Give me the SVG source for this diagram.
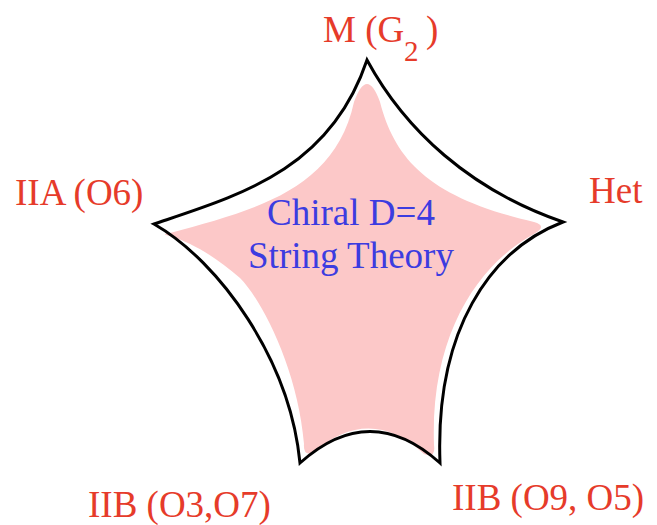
<svg xmlns="http://www.w3.org/2000/svg" width="657" height="525" viewBox="0 0 657 525">
<style>
.lbl{font-family:"Liberation Serif","Times New Roman",serif;fill:#e63b2a;font-size:37px}
.ctr{font-family:"Liberation Serif","Times New Roman",serif;fill:#3c3ce0;font-size:37px;text-anchor:middle}
</style>
<rect width="657" height="525" fill="#ffffff"/>
<g id="star">
<path id="star-fill" fill="#fcc8c8" d="M170,233 C255,210 335,190 354,102 Q367,66 380,102 C395,160 430,198 534,222 Q548,226 534,234 C482,262 430,330 434,445 Q436,459 424,454 Q370,404 314,452 Q303,457 304,444 C298,370 262,300 240,278 C215,256 190,242 170,236 Q160,234 170,233 Z"/>
<path id="star-outline" fill="none" stroke="#000" stroke-width="3" stroke-linejoin="miter" stroke-miterlimit="10" d="M154,224 C240,195 330,170 367,60 C405,130 470,190 563,222 C490,250 435,330 440,463 Q370,400 300,463 C290,360 220,262 154,224 Z"/>
</g>
<g id="labels">
<text id="m-g2" class="lbl" x="323" y="42" font-size="34">M (G<tspan x="404" dy="19" font-size="29">2</tspan><tspan x="426" dy="-19">)</tspan></text>
<text id="iia" class="lbl" x="15" y="205">IIA (O6)</text>
<text id="het" class="lbl" x="589" y="203">Het</text>
<text id="iib-o3o7" class="lbl" x="88" y="517">IIB (O3,O7)</text>
<text id="iib-o9o5" class="lbl" x="452" y="510">IIB (O9, O5)</text>
</g>
<g id="center-text">
<text class="ctr" x="351" y="225">Chiral D=4</text>
<text class="ctr" x="351" y="268">String Theory</text>
</g>
</svg>
